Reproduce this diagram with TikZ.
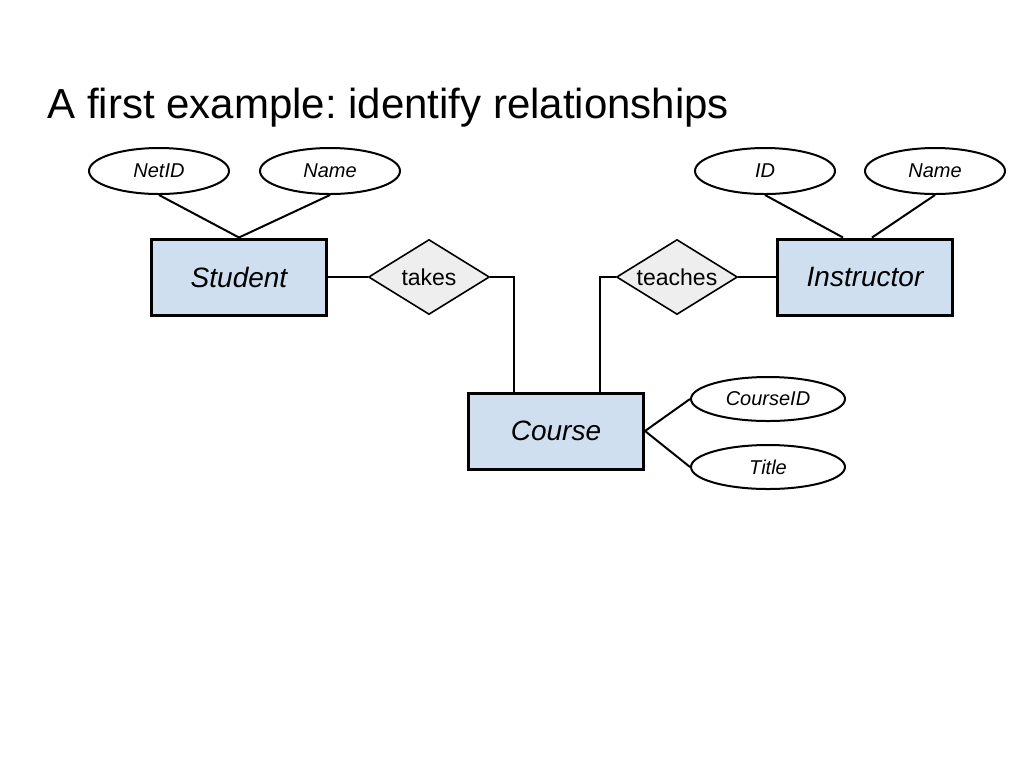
\documentclass[tikz,border=0pt]{standalone}
\usepackage{fontspec}
\setmainfont{Liberation Sans}
\usepackage{tikz}
\usetikzlibrary{shapes.geometric}
\usepackage{xcolor}
\frenchspacing

\definecolor{entityblue}{HTML}{CFDFF0}
\definecolor{relgray}{HTML}{EEEEEE}

\tikzset{
    entity/.style={draw, line width=1.5pt, fill=entityblue, minimum width=87.5pt, minimum height=38pt,
        inner sep=0pt, font=\fontsize{14}{16}\selectfont\itshape},
    relation/.style={draw, line width=0.8pt, fill=relgray, diamond, minimum width=60.5pt, minimum height=37.5pt,
        inner sep=0pt, label={[font=\fontsize{11.5}{13}\selectfont]center:#1}},
    attrib/.style={draw, line width=1pt, ellipse, fill=white, minimum width=70pt, minimum height=23pt,
        inner sep=0pt, font=\fontsize{10}{12}\selectfont\itshape},
    link/.style={line width=1pt}
}

\begin{document}
\begin{tikzpicture}[x=0.5pt, y=-0.5pt]
            % Riquadro della pagina
            \useasboundingbox (0,0) rectangle (1024,768);

            % Titolo
            \node[anchor=base west, inner sep=0pt, font=\fontsize{21}{25}\selectfont] (title) at (47,118)
                {A first example: identify relationships};

            % Entita
            \node[entity] (student) at (239,277) {Student};
            \node[entity] (instructor) at (865,277) {Instructor};
            \node[entity] (course) at (556,431) {Course};

            % Relazioni
            \node[relation=takes] (takes) at (429,277) {};
            \node[relation=teaches] (teaches) at (677,277) {};

            % Attributi
            \node[attrib] (netid) at (159,171) {NetID};
            \node[attrib] (sname) at (330,171) {Name};
            \node[attrib] (iid) at (765,171) {ID};
            \node[attrib] (iname) at (935,171) {Name};
            \node[attrib, minimum width=77pt, minimum height=22pt] (courseid) at (768,399) {CourseID};
            \node[attrib, minimum width=77pt, minimum height=22pt] (ctitle) at (768,467) {Title};

            % Collegamenti attributi
            \draw[link] (netid.south) -- (student.north);
            \draw[link] (sname.south) -- (student.north);
            \draw[link] (iid.south) -- ([xshift=-11pt]instructor.north);
            \draw[link] (iname.south) -- ([xshift=3.5pt]instructor.north);
            \draw[link] (course.east) -- (courseid.west);
            \draw[link] (course.east) -- (ctitle.west);

            % Collegamenti relazioni
            \draw[link] (student.east) -- (takes.west);
            \draw[link] (takes.east) -| ([xshift=-21pt]course.north);
            \draw[link] (teaches.east) -- (instructor.west);
            \draw[link] (teaches.west) -| ([xshift=22pt]course.north);
        \end{tikzpicture}
\end{document}
